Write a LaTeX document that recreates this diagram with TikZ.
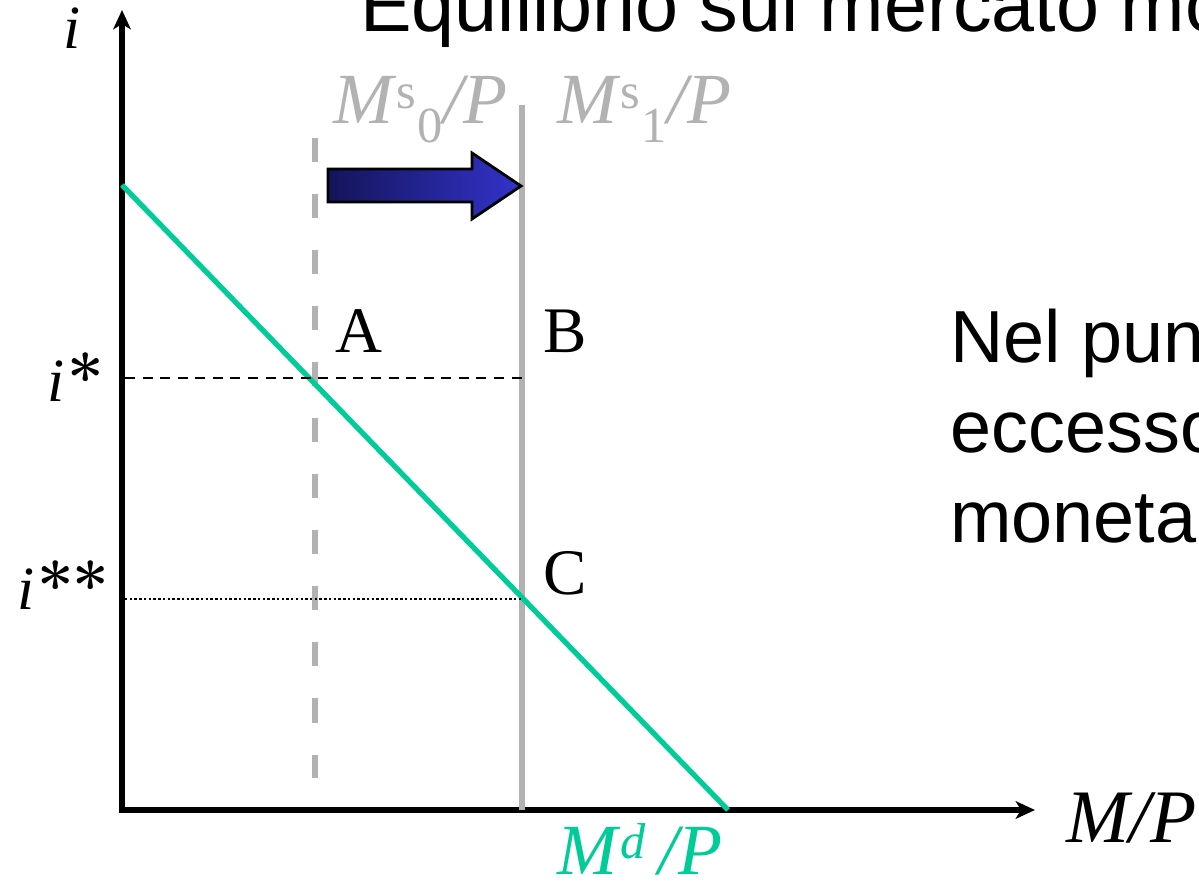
\documentclass[tikz,border=0pt]{standalone}
\usepackage{fontspec}
\setmainfont{Liberation Serif}
\newfontfamily\arialfont{Liberation Sans}
\newfontfamily\starfont{Latin Modern Roman}
\usetikzlibrary{arrows.meta}
\definecolor{mdgreen}{RGB}{0,204,153}
\definecolor{msgrey}{RGB}{178,178,178}
\definecolor{arrnavy}{RGB}{20,20,90}
\definecolor{arrblue}{RGB}{51,51,204}
\newcommand\eqstar{{\starfont\bfseries\fontsize{37}{40}\selectfont *}}

\begin{document}
\begin{tikzpicture}[
  x=0.02cm, y=-0.02cm,
  axis/.style={line width=3.4pt, line join=miter,
               {Stealth[length=11pt,width=10pt,inset=3pt]}-{Stealth[length=11pt,width=10pt,inset=3pt]}},
  demand/.style={draw=mdgreen, line width=3pt},
  supply/.style={draw=msgrey, line width=3.3pt},
  oldsupply/.style={supply, dash pattern=on 13.7pt off 18.2pt},
  guide/.style={line width=1.2pt, dash pattern=on 5.7pt off 4.3pt},
  dotguide/.style={line width=1.2pt, dash pattern=on 1.4pt off 1.3pt},
  lab/.style={inner sep=0pt, anchor=base west, font=\fontsize{37}{44}\selectfont},
  mlab/.style={lab, font=\fontsize{40}{48}\selectfont},
  slide/.style={inner sep=0pt, anchor=base west, font=\arialfont\fontsize{44}{51}\selectfont}
]
\useasboundingbox (0,0) rectangle (1199,881);
\clip (0,0) rectangle (1199,881);
% axes
\coordinate (O) at (122,810);
\coordinate (ytop) at (122,10);
\coordinate (xend) at (1035,810);
\draw[axis] (ytop) -- (O) -- (xend);
\node[mlab, font=\fontsize{35}{42}\selectfont] (ilab) at (63,49) {\textit{i}};
\node[mlab, font=\fontsize{43}{50}\selectfont] (xlab) at (1066,842) {\textit{M/P}};
% money supply, before and after
\coordinate (s0top) at (315,138);
\coordinate (s0bot) at (315,778);
\coordinate (s1top) at (522,105);
\coordinate (s1bot) at (522,810);
\draw[oldsupply] (s0top) -- (s0bot);
\draw[supply] (s1top) -- (s1bot);
\node[mlab, text=msgrey, font=\fontsize{41}{48}\selectfont] (s0lab) at (333,124)
  {\textit{M}\textsuperscript{s}\textsubscript{0}\textit{/P}};
\node[mlab, text=msgrey, font=\fontsize{41}{48}\selectfont] (s1lab) at (557,124)
  {\textit{M}\textsuperscript{s}\textsubscript{1}\textit{/P}};
% shift arrow
\shade[left color=arrnavy, right color=arrblue, draw=black, line width=1.6pt, line join=miter]
  (328,169) -- (472,169) -- (472,153) -- (521,186) -- (472,219) -- (472,202) -- (328,202) -- cycle;
% money demand
\coordinate (d0) at (122,185);
\coordinate (d1) at (728,810);
\draw[demand] (d0) -- (d1);
\node[mlab, text=mdgreen, font=\fontsize{41}{48}\selectfont] (mdlab) at (557,874)
  {\textit{M}\textsuperscript{\itshape d}\textit{\,/P}};
% interest rates
\coordinate (ia) at (125,378);
\coordinate (ib) at (522,378);
\coordinate (ic) at (125,599);
\coordinate (id) at (522,599);
\draw[guide] (ia) -- (ib);
\draw[dotguide] (ic) -- (id);
\node[mlab, font=\fontsize{35}{42}\selectfont] (istar) at (47,401) {\textit{i}\kern2pt\eqstar};
\node[mlab, font=\fontsize{35}{42}\selectfont] (istarstar) at (17,609) {\textit{i}\kern2pt\eqstar\kern-1pt\eqstar};
% points
\node[lab] (pA) at (335,353) {A};
\node[lab] (pB) at (543,353) {B};
\node[lab] (pC) at (543,594) {C};
% slide text
\node[slide] (title) at (360,32) {Equilibrio sul mercato mo};
\node[slide, font=\arialfont\fontsize{42}{51}\selectfont] (txt1) at (950,363) {Nel pun};
\node[slide, font=\arialfont\fontsize{42}{51}\selectfont] (txt2) at (950,452) {eccesso};
\node[slide, font=\arialfont\fontsize{42}{51}\selectfont] (txt3) at (950,542) {moneta};
\end{tikzpicture}
\end{document}
